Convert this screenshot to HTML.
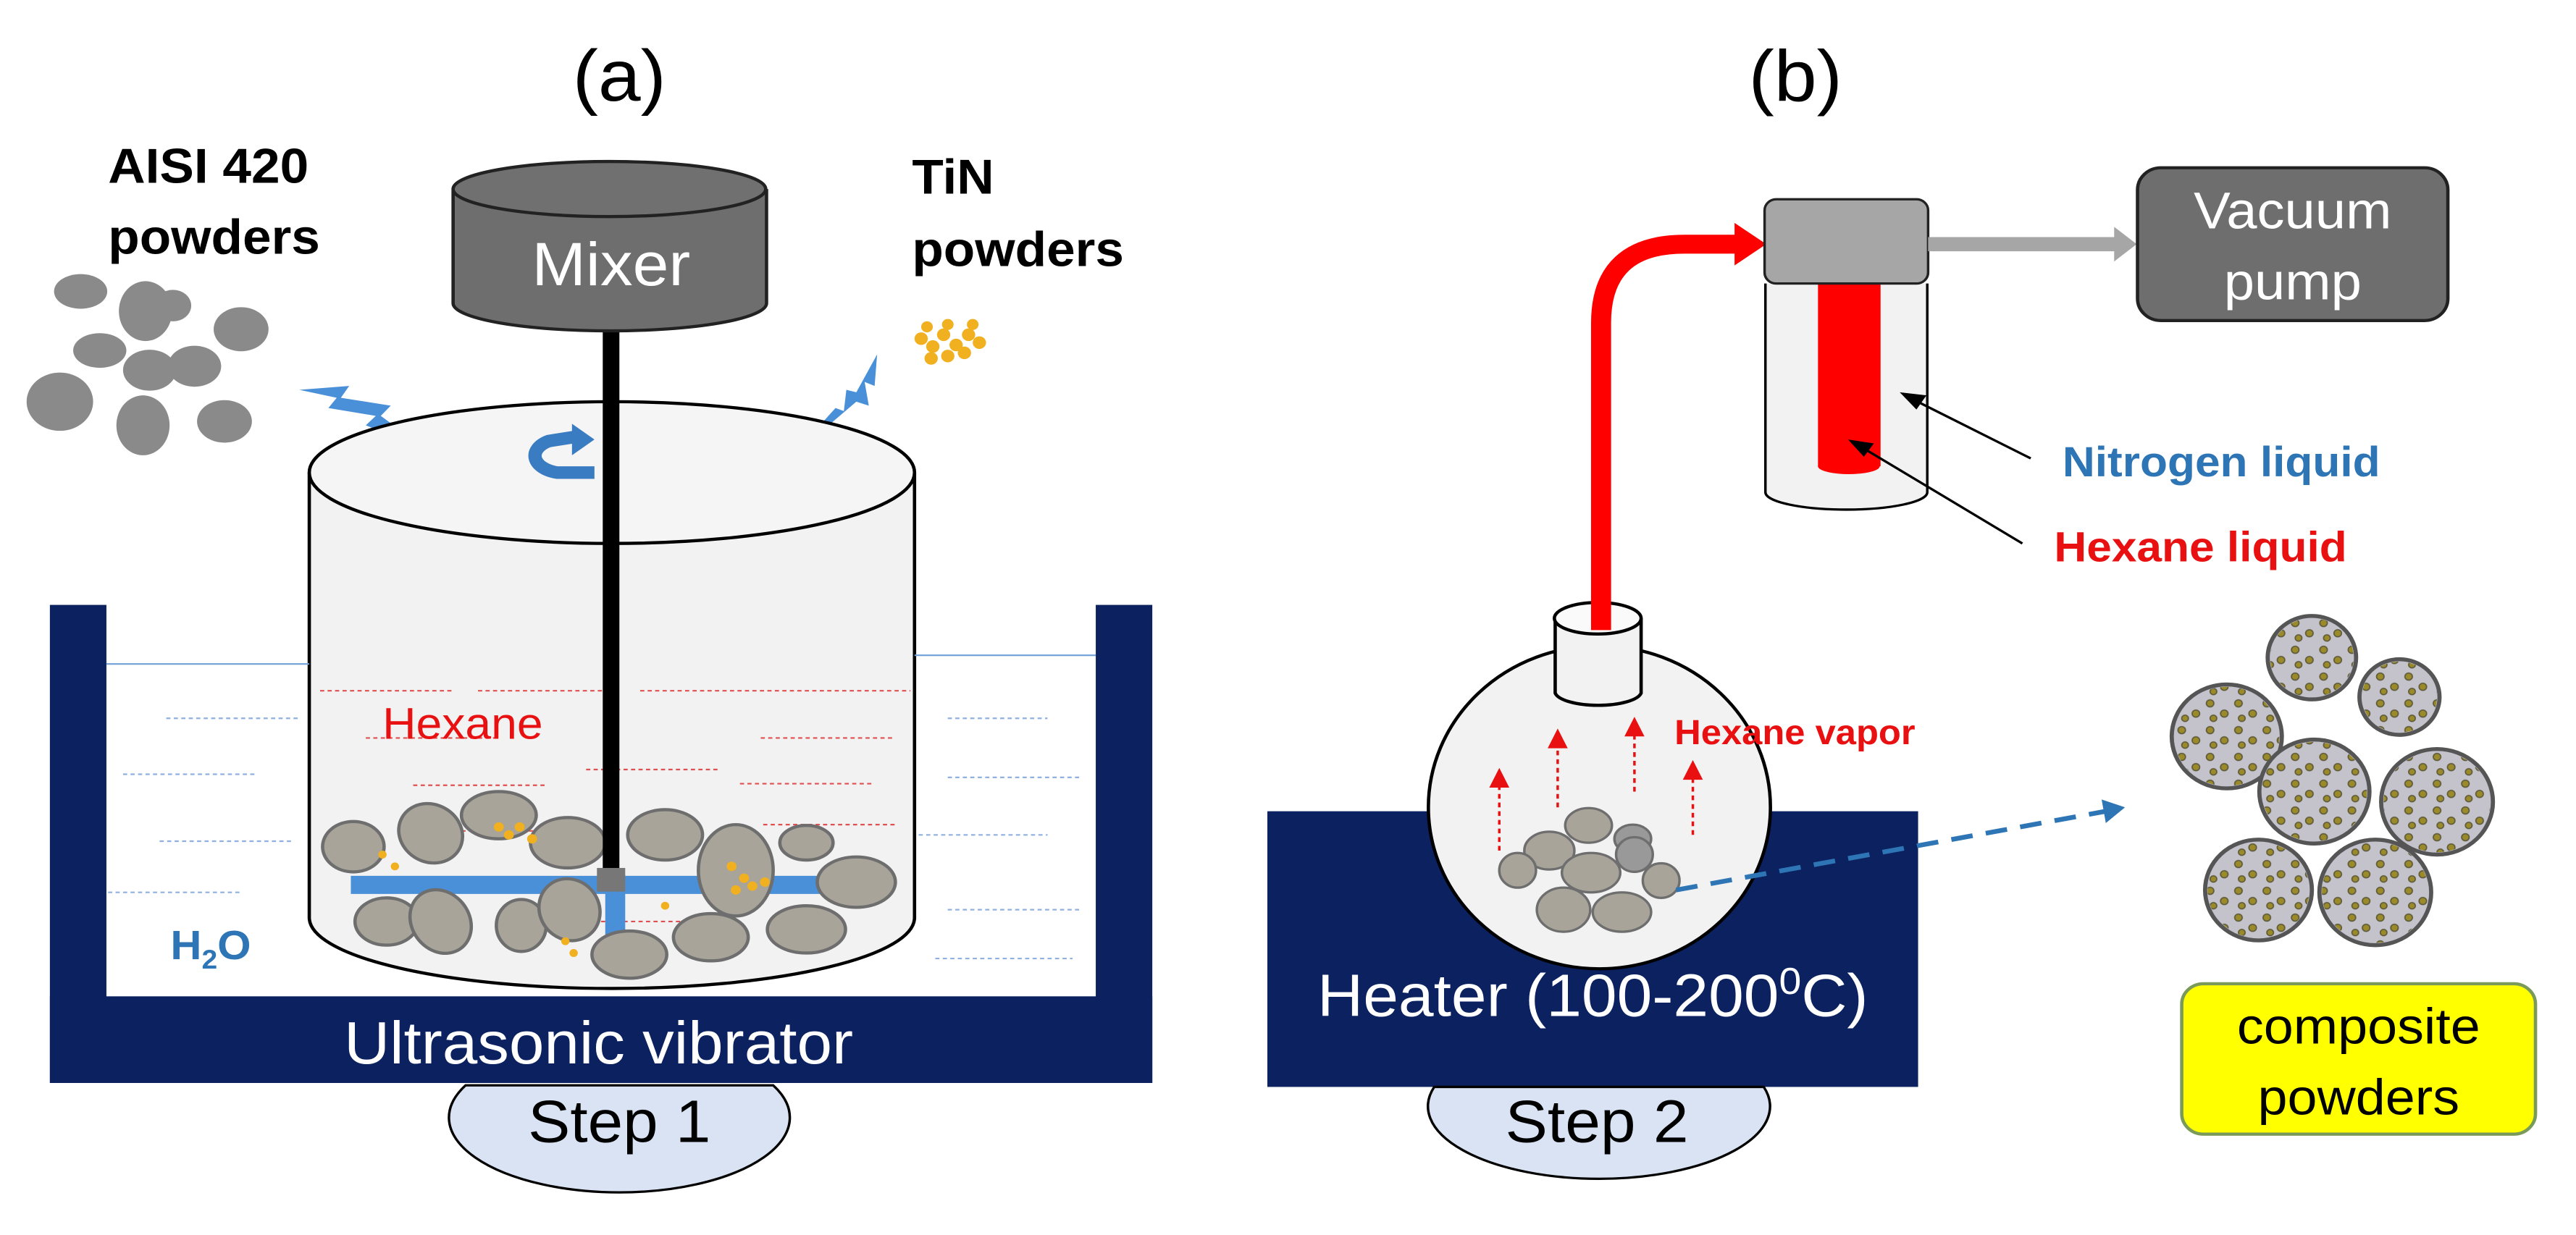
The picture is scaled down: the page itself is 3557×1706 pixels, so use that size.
<!DOCTYPE html>
<html><head><meta charset="utf-8"><style>
html,body{margin:0;padding:0;background:#fff;}
svg{display:block;}
text{font-family:"Liberation Sans",sans-serif;}
</style></head><body>
<svg width="3557" height="1706" viewBox="0 0 3557 1706" xmlns="http://www.w3.org/2000/svg">
<defs>
<pattern id="dots" width="34" height="34" patternUnits="userSpaceOnUse">
<circle cx="8" cy="9" r="4.5" fill="#9a8a2a" stroke="#5e5a3a" stroke-width="1.5"/>
<circle cx="25" cy="22" r="4.5" fill="#9a8a2a" stroke="#5e5a3a" stroke-width="1.5"/>
<circle cx="12" cy="28" r="4" fill="#9a8a2a" stroke="#5e5a3a" stroke-width="1.5"/>
</pattern>
</defs>

<!-- LEFT PANEL -->
<g transform="scale(1.148,1.088)">
<text x="745" y="128" font-size="92" text-anchor="middle">(a)</text>
<text x="130" y="232" font-size="62" font-weight="bold">AISI 420</text>
<text x="130" y="322" font-size="62" font-weight="bold">powders</text>
<text x="1097" y="246" font-size="62" font-weight="bold">TiN</text>
<text x="1097" y="338" font-size="62" font-weight="bold">powders</text>
<g fill="#8a8a8a">
<ellipse cx="97" cy="370" rx="32" ry="22"/><ellipse cx="175" cy="395" rx="32" ry="38"/><ellipse cx="208" cy="388" rx="22" ry="20"/>
<ellipse cx="290" cy="418" rx="33" ry="28"/><ellipse cx="120" cy="445" rx="32" ry="22"/><ellipse cx="180" cy="470" rx="32" ry="26"/>
<ellipse cx="234" cy="465" rx="32" ry="26"/><ellipse cx="72" cy="510" rx="40" ry="37"/><ellipse cx="172" cy="540" rx="32" ry="38"/>
<ellipse cx="270" cy="535" rx="33" ry="27"/>
</g>
<g fill="#f0b020">
<circle cx="1108" cy="430" r="8"/><circle cx="1122" cy="440" r="8"/><circle cx="1135" cy="425" r="8"/><circle cx="1150" cy="438" r="8"/><circle cx="1165" cy="425" r="8"/><circle cx="1178" cy="435" r="8"/><circle cx="1120" cy="455" r="8"/><circle cx="1140" cy="452" r="8"/><circle cx="1160" cy="448" r="8"/><circle cx="1115" cy="415" r="7"/><circle cx="1170" cy="412" r="7"/><circle cx="1140" cy="412" r="7"/>
</g>
<polygon points="360,495 420,490 410,505 470,515 458,528 515,572 440,540 452,528 395,518 405,505" fill="#4a90d9"/>
<polygon points="1055,450 1052,490 1040,485 1045,515 1030,510 950,582 1005,518 1015,522 1018,495 1030,498" fill="#4a90d9"/>
<path d="M372,600 V1165 A364,90 0 0 0 1100,1165 V600" fill="#f2f2f2" stroke="#000" stroke-width="4"/>
<ellipse cx="736" cy="600" rx="364" ry="90" fill="#f5f5f5" stroke="#000" stroke-width="4"/>
<path d="M715,600 H670 A35,22 0 0 1 660,560 L690,555" fill="none" stroke="#3a7cc2" stroke-width="16"/>
<polygon points="688,538 715,558 688,578" fill="#3a7cc2"/>
<rect x="60" y="768" width="68" height="607" fill="#0b2160"/>
<rect x="1318" y="768" width="68" height="607" fill="#0b2160"/>
<rect x="60" y="1265" width="1326" height="110" fill="#0b2160"/>
<text x="720" y="1350" font-size="76" fill="#fff" text-anchor="middle">Ultrasonic vibrator</text>
<line x1="128" y1="843" x2="372" y2="843" stroke="#6fa0d8" stroke-width="2"/>
<line x1="1100" y1="832" x2="1318" y2="832" stroke="#6fa0d8" stroke-width="2"/>
<g stroke="#8fb0e0" stroke-width="2" stroke-dasharray="5,4">
<line x1="200" y1="912" x2="360" y2="912"/><line x1="148" y1="983" x2="308" y2="983"/><line x1="192" y1="1068" x2="352" y2="1068"/><line x1="130" y1="1133" x2="290" y2="1133"/>
<line x1="1140" y1="912" x2="1260" y2="912"/><line x1="1140" y1="987" x2="1300" y2="987"/><line x1="1105" y1="1060" x2="1260" y2="1060"/><line x1="1140" y1="1155" x2="1300" y2="1155"/><line x1="1125" y1="1217" x2="1290" y2="1217"/>
</g>
<g stroke="#e05050" stroke-width="2" stroke-dasharray="5,4">
<line x1="385" y1="877" x2="545" y2="877"/><line x1="575" y1="877" x2="735" y2="877"/><line x1="770" y1="877" x2="1095" y2="877"/>
<line x1="440" y1="937" x2="600" y2="937"/><line x1="915" y1="937" x2="1075" y2="937"/><line x1="705" y1="977" x2="865" y2="977"/>
<line x1="497" y1="997" x2="657" y2="997"/><line x1="890" y1="995" x2="1050" y2="995"/><line x1="918" y1="1047" x2="1078" y2="1047"/>
<line x1="555" y1="1055" x2="715" y2="1055"/><line x1="660" y1="1170" x2="820" y2="1170"/>
</g>
<text x="460" y="938" font-size="56" fill="#e81010">Hexane</text>
<text x="205" y="1218" font-size="52" font-weight="bold" fill="#2e75b6">H<tspan font-size="34" dy="12">2</tspan><tspan dy="-12">O</tspan></text>
<rect x="422" y="1112" width="578" height="23" fill="#4a90d9"/>
<rect x="728" y="1110" width="24" height="90" fill="#4a90d9"/>
<g fill="#a8a49a" stroke="#6e6e6e" stroke-width="4">
<ellipse cx="425" cy="1075" rx="37" ry="32"/><ellipse cx="518" cy="1058" rx="40" ry="36" transform="rotate(40 518 1058)"/>
<ellipse cx="600" cy="1035" rx="45" ry="30"/><ellipse cx="683" cy="1070" rx="45" ry="32"/><ellipse cx="800" cy="1060" rx="45" ry="32"/>
<ellipse cx="885" cy="1105" rx="45" ry="58"/><ellipse cx="970" cy="1070" rx="32" ry="22"/><ellipse cx="1030" cy="1120" rx="47" ry="32"/>
<ellipse cx="465" cy="1170" rx="38" ry="30"/><ellipse cx="530" cy="1170" rx="35" ry="42" transform="rotate(-30 530 1170)"/>
<ellipse cx="627" cy="1175" rx="30" ry="33"/><ellipse cx="685" cy="1155" rx="36" ry="40" transform="rotate(-25 685 1155)"/>
<ellipse cx="757" cy="1212" rx="45" ry="30"/><ellipse cx="855" cy="1190" rx="45" ry="30"/><ellipse cx="970" cy="1180" rx="47" ry="30"/>
</g>
<g fill="#f0b020">
<circle cx="600" cy="1050" r="6"/><circle cx="612" cy="1060" r="6"/><circle cx="625" cy="1050" r="6"/><circle cx="640" cy="1065" r="6"/>
<circle cx="880" cy="1100" r="6"/><circle cx="895" cy="1115" r="6"/><circle cx="905" cy="1125" r="6"/><circle cx="885" cy="1130" r="6"/><circle cx="920" cy="1120" r="6"/>
<circle cx="460" cy="1085" r="5"/><circle cx="475" cy="1100" r="5"/><circle cx="690" cy="1210" r="5"/><circle cx="680" cy="1195" r="5"/><circle cx="800" cy="1150" r="5"/>
</g>
<rect x="725" y="410" width="20" height="700" fill="#000"/>
<rect x="718" y="1102" width="34" height="30" fill="#777"/>
<path d="M545,240 V385 A188,35 0 0 0 922,385 V240" fill="#6e6e6e" stroke="#222" stroke-width="4"/>
<ellipse cx="733" cy="240" rx="188" ry="35" fill="#707070" stroke="#222" stroke-width="4"/>
<text x="735" y="362" font-size="78" fill="#fff" text-anchor="middle">Mixer</text>
<path d="M560,1378 A205,95 0 1 0 930,1378 Z" fill="#dae3f3" stroke="#000" stroke-width="3"/>
<text x="745" y="1450" font-size="76" text-anchor="middle">Step 1</text>
</g>

<!-- RIGHT PANEL -->
<g transform="translate(1750,0) scale(1.152,1.088)">
<text x="633" y="128" font-size="92" text-anchor="middle">(b)</text>
<rect x="0" y="1030" width="780" height="350" fill="#0b2160"/>
<text x="390" y="1290" font-size="76" fill="#fff" text-anchor="middle">Heater (100-200<tspan font-size="48" dy="-28">0</tspan><tspan dy="28">C)</tspan></text>
<path d="M200,1380 A205,92 0 1 0 595,1380 Z" fill="#dae3f3" stroke="#000" stroke-width="3"/>
<text x="395" y="1450" font-size="76" text-anchor="middle">Step 2</text>
<circle cx="398" cy="1025" r="205" fill="#f2f2f2" stroke="#000" stroke-width="4"/>
<path d="M345,785 V880 A52,18 0 0 0 448,880 V785" fill="#f2f2f2" stroke="#000" stroke-width="4"/>
<ellipse cx="396" cy="785" rx="52" ry="20" fill="#fafafa" stroke="#000" stroke-width="4"/>
<g fill="#a8a49a" stroke="#6e6e6e" stroke-width="3">
<ellipse cx="385" cy="1048" rx="28" ry="22"/><ellipse cx="338" cy="1080" rx="30" ry="24"/><circle cx="300" cy="1105" r="22"/>
<ellipse cx="438" cy="1065" rx="22" ry="18" fill="#999"/><circle cx="440" cy="1085" r="22" fill="#999"/><ellipse cx="388" cy="1108" rx="35" ry="25"/>
<circle cx="472" cy="1118" r="22"/><ellipse cx="355" cy="1155" rx="32" ry="28"/><ellipse cx="425" cy="1158" rx="35" ry="25"/>
</g>
<g stroke="#e81010" stroke-width="3" stroke-dasharray="6,5" fill="#e81010">
<line x1="278" y1="1080" x2="278" y2="995"/><line x1="348" y1="1025" x2="348" y2="945"/><line x1="440" y1="1005" x2="440" y2="930"/><line x1="510" y1="1060" x2="510" y2="985"/>
</g>
<g fill="#e81010">
<polygon points="266,1000 278,975 290,1000"/><polygon points="336,950 348,925 360,950"/><polygon points="428,935 440,910 452,935"/><polygon points="498,990 510,965 522,990"/>
</g>
<text x="488" y="945" font-size="44" font-weight="bold" fill="#e81010">Hexane vapor</text>
<path d="M400,800 V410 Q400,310 500,310 H565" fill="none" stroke="#ff0000" stroke-width="24"/>
<polygon points="560,283 598,310 560,337" fill="#ff0000"/>
<path d="M597,360 V625 A97,22 0 0 0 791,625 V360" fill="#f2f2f2" stroke="#000" stroke-width="3"/>
<rect x="660" y="360" width="75" height="232" fill="#ff0000"/>
<ellipse cx="697" cy="592" rx="37" ry="10" fill="#ff0000"/>
<rect x="596" y="253" width="196" height="107" rx="14" fill="#a6a6a6" stroke="#222" stroke-width="3"/>
<line x1="792" y1="310" x2="1020" y2="310" stroke="#a6a6a6" stroke-width="18"/>
<polygon points="1015,288 1042,310 1015,332" fill="#a6a6a6"/>
<rect x="1043" y="213" width="372" height="194" rx="28" fill="#6e6e6e" stroke="#222" stroke-width="4"/>
<text x="1229" y="290" font-size="66" fill="#fff" text-anchor="middle">Vacuum</text>
<text x="1229" y="380" font-size="66" fill="#fff" text-anchor="middle">pump</text>
<line x1="915" y1="582" x2="770" y2="505" stroke="#000" stroke-width="3"/>
<polygon points="758,498 790,502 778,520" fill="#000"/>
<line x1="905" y1="690" x2="708" y2="565" stroke="#000" stroke-width="3"/>
<polygon points="696,558 727,563 715,580" fill="#000"/>
<text x="953" y="605" font-size="54" font-weight="bold" fill="#2e75b6">Nitrogen liquid</text>
<text x="943" y="713" font-size="54" font-weight="bold" fill="#e81010">Hexane liquid</text>
<line x1="490" y1="1130" x2="1005" y2="1030" stroke="#2e75b6" stroke-width="6" stroke-dasharray="26,16"/>
<polygon points="1000,1015 1028,1025 1005,1045" fill="#2e75b6"/>
<g stroke="#555" stroke-width="5">
<g fill="#c4c3cc"><circle cx="1252" cy="835" r="53"/><circle cx="1357" cy="885" r="48"/><circle cx="1150" cy="935" r="66"/><circle cx="1255" cy="1005" r="66"/><circle cx="1402" cy="1018" r="67"/><circle cx="1188" cy="1130" r="64"/><circle cx="1328" cy="1133" r="67"/></g>
<g fill="url(#dots)" stroke="none"><circle cx="1252" cy="835" r="50"/><circle cx="1357" cy="885" r="45"/><circle cx="1150" cy="935" r="63"/><circle cx="1255" cy="1005" r="63"/><circle cx="1402" cy="1018" r="64"/><circle cx="1188" cy="1130" r="61"/><circle cx="1328" cy="1133" r="64"/></g>
</g>
<rect x="1096" y="1249" width="424" height="191" rx="26" fill="#ffff00" stroke="#7a9a5a" stroke-width="4"/>
<text x="1308" y="1325" font-size="64" text-anchor="middle">composite</text>
<text x="1308" y="1415" font-size="64" text-anchor="middle">powders</text>
</g>
</svg>
</body></html>
